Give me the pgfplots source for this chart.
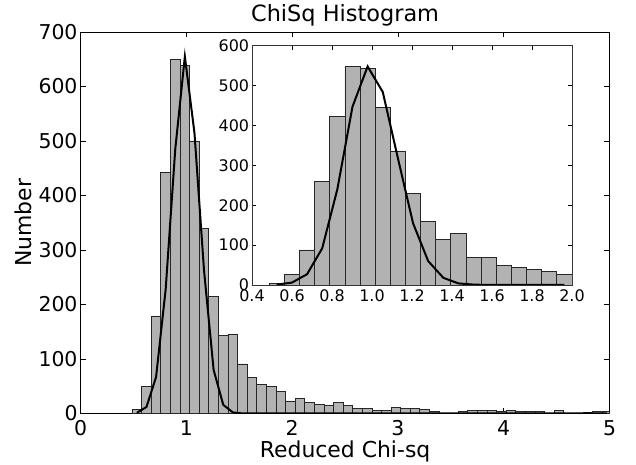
\documentclass[border=0pt]{standalone}
\usepackage{pgfplots}
\pgfplotsset{compat=1.18}
\usepackage{fontspec}
\setmainfont{DejaVu Sans}
\begin{document}
\begin{tikzpicture}
\path[use as bounding box] (-80.7bp,-51.5bp) rectangle (555.3bp,413.5bp);
\begin{axis}[
  at={(0,0)}, anchor=south west, scale only axis,
  width=528.8bp, height=381.5bp,
  xmin=0, xmax=5, ymin=0, ymax=700,
  xtick={0,1,2,3,4,5}, ytick={0,100,200,300,400,500,600,700},
  tick align=inside, major tick length=5bp,
  tick style={black, line width=0.8bp},
  axis line style={black, line width=0.9bp},
  /pgf/number format/assume math mode=true,
  ticklabel style={font=\fontsize{20.5}{24}\selectfont},
  xticklabel style={anchor=base, yshift=-21.5bp, inner sep=0pt},
  yticklabel style={anchor=east, inner sep=0pt, xshift=-3bp},
  title={ChiSq Histogram}, xlabel={Reduced Chi-sq}, ylabel={Number},
  title style={at={(axis description cs:0.5,1.013)}, anchor=base, font=\fontsize{22.5}{26}\selectfont, inner sep=0pt},
  xlabel style={at={(axis description cs:0.5,-0.1148)}, anchor=base, font=\fontsize{22}{26}\selectfont, inner sep=0pt},
  ylabel style={at={(axis description cs:-0.0927,0.5)}, anchor=base, font=\fontsize{22}{26}\selectfont, inner sep=0pt},
]
\addplot[ybar interval, fill=gray!60, draw=black!85, line width=0.8bp] coordinates {
(0.486,8) (0.5767,49) (0.6674,179) (0.7581,442) (0.8488,650) (0.9395,638)
(1.0302,500) (1.1209,340) (1.2116,214) (1.3023,143) (1.393,146) (1.4837,91)
(1.5744,66) (1.6651,54) (1.7558,49) (1.8465,40) (1.9372,23) (2.0279,27)
(2.1186,20) (2.2093,17) (2.3,15) (2.3907,21) (2.4814,14) (2.5721,9)
(2.6628,9) (2.7535,5) (2.8442,6) (2.9349,11) (3.0256,9) (3.1163,9)
(3.207,7) (3.2977,4) (3.3884,1) (3.4791,0) (3.5698,4) (3.6605,5)
(3.7512,6) (3.8419,5) (3.9326,4) (4.0233,5) (4.114,4) (4.2047,3)
(4.2954,3) (4.3861,1) (4.4768,5) (4.5675,1) (4.6582,1) (4.7489,2)
(4.8396,3) (4.9303,3) (5.021,3)
};
\addplot[black, line width=2bp, sharp plot, no marks] coordinates {
(0.5314,1.3) (0.6221,12) (0.7128,67) (0.8035,228) (0.8942,485) (0.9849,655)
(1.0756,515) (1.1663,262) (1.257,80) (1.3477,16) (1.4384,2) (1.5291,0.1)
(1.6198,0) (4.9757,0)
};
\end{axis}
\begin{axis}[
  at={(171.3bp,128.5bp)}, anchor=south west, scale only axis,
  width=320bp, height=239.3bp,
  xmin=0.4, xmax=2.0, ymin=0, ymax=600,
  axis background/.style={fill=white},
  xtick={0.4,0.6,0.8,1.0,1.2,1.4,1.6,1.8,2.0}, ytick={0,100,200,300,400,500,600},
  tick align=inside, major tick length=4bp,
  tick style={black, line width=0.7bp},
  axis line style={black!80, line width=0.9bp},
  /pgf/number format/assume math mode=true,
  ticklabel style={font=\fontsize{16}{19}\selectfont},
  xticklabel style={anchor=base, yshift=-16.7bp, inner sep=0pt, /pgf/number format/.cd, fixed, fixed zerofill, precision=1},
  yticklabel style={anchor=east, inner sep=0pt, xshift=-2.7bp},
]
\addplot[ybar interval, fill=gray!60, draw=black!85, line width=0.8bp] coordinates {
(0.486,3) (0.5617,27) (0.6374,88) (0.7131,259) (0.7888,423) (0.8645,548)
(0.9402,543) (1.0159,446) (1.0916,336) (1.1673,229) (1.243,159) (1.3187,114)
(1.3944,130) (1.4701,68) (1.5458,70) (1.6215,48) (1.6972,43) (1.7729,40)
(1.8486,33) (1.9243,27) (2.0,27)
};
\addplot[black, line width=2bp, sharp plot, no marks] coordinates {
(0.5239,1) (0.5996,6) (0.6753,27) (0.751,92) (0.8267,240) (0.9024,447)
(0.9781,548) (1.0538,484) (1.1295,318) (1.2052,155) (1.2809,60) (1.3566,18)
(1.4323,4) (1.508,1) (1.5837,0) (1.9622,0)
};
\end{axis}
\end{tikzpicture}
\end{document}
